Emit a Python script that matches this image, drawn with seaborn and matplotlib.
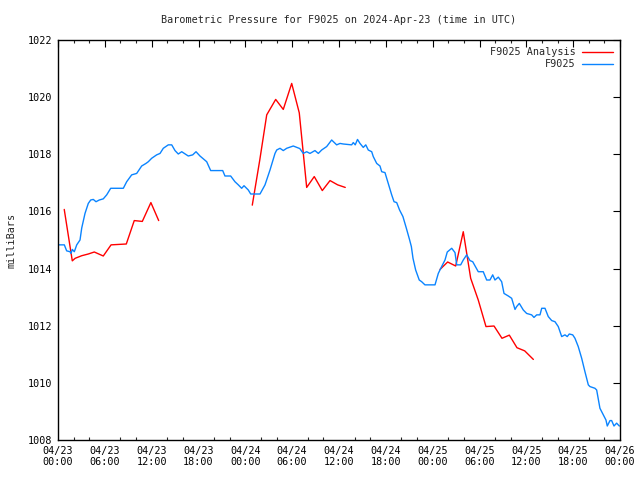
import matplotlib
matplotlib.use("Agg")
import matplotlib.pyplot as plt
import seaborn as sns
import pandas as pd
import numpy as np
from matplotlib.ticker import MultipleLocator

# ---- data (hours since 2024-04-23 00:00 UTC, pressure in mb) ----
station_hours = [0.04, 0.81, 1.11, 1.54, 1.67, 1.83, 2.09, 2.40, 2.82, 3.04, 3.46, 3.88, 4.19, 4.52,
                 4.87, 5.29, 5.80, 6.24, 6.75, 8.37, 8.80, 9.44, 10.08, 10.72, 11.27, 11.57, 12.00,
                 12.64, 13.07, 13.49, 14.13, 14.57, 14.99, 15.41, 15.85, 16.69, 17.26, 17.68, 18.19,
                 19.05, 19.56, 21.10, 21.39, 22.12, 22.67, 23.10, 23.53, 23.83, 24.38, 24.69, 25.88,
                 26.52, 27.16, 27.80, 28.02, 28.44, 28.86, 29.30, 30.14, 30.98, 31.42, 31.86, 32.28,
                 32.92, 33.35, 33.78, 34.42, 35.06, 35.70, 36.13, 36.55, 37.62, 37.83, 38.08, 38.37,
                 38.69, 39.11, 39.43, 39.75, 40.19, 40.39, 40.83, 41.25, 41.47, 41.89, 42.11, 42.44,
                 42.75, 43.05, 43.39, 43.76, 44.19, 44.63, 45.05, 45.27, 45.48, 45.82, 46.28, 46.59,
                 47.01, 48.30, 48.72, 49.15, 49.58, 49.87, 50.44, 50.86, 51.08, 51.59, 51.92, 52.36,
                 52.78, 53.13, 53.84, 54.48, 54.92, 55.34, 55.69, 55.98, 56.41, 56.84, 57.14, 57.69,
                 58.12, 58.55, 58.76, 59.10, 59.61, 60.04, 60.68, 60.98, 61.33, 61.75, 61.97, 62.39,
                 62.81, 63.25, 63.67, 64.09, 64.53, 64.95, 65.24, 65.50, 65.94, 66.23, 66.65, 67.09,
                 67.51, 67.94, 68.15, 68.79, 69.01, 69.43, 69.86, 70.20, 70.37, 70.72, 70.93, 71.23,
                 71.57, 71.91]
station_mb = [1014.83, 1014.83, 1014.62, 1014.59, 1014.53, 1014.67, 1014.59, 1014.83, 1015.00, 1015.42,
              1015.93, 1016.28, 1016.40, 1016.42, 1016.34, 1016.40, 1016.44, 1016.58, 1016.81, 1016.81,
              1017.04, 1017.28, 1017.33, 1017.59, 1017.68, 1017.74, 1017.86, 1017.98, 1018.03, 1018.21,
              1018.33, 1018.33, 1018.13, 1018.01, 1018.09, 1017.94, 1017.98, 1018.09, 1017.94, 1017.74,
              1017.43, 1017.43, 1017.24, 1017.24, 1017.04, 1016.93, 1016.81, 1016.90, 1016.75, 1016.61,
              1016.61, 1016.93, 1017.45, 1018.03, 1018.15, 1018.21, 1018.13, 1018.21, 1018.29, 1018.20,
              1018.03, 1018.09, 1018.03, 1018.13, 1018.03, 1018.15, 1018.27, 1018.50, 1018.33, 1018.38,
              1018.36, 1018.33, 1018.41, 1018.33, 1018.52, 1018.38, 1018.24, 1018.33, 1018.15, 1018.09,
              1017.92, 1017.68, 1017.59, 1017.39, 1017.36, 1017.16, 1016.87, 1016.58, 1016.34, 1016.31,
              1016.05, 1015.82, 1015.41, 1015.00, 1014.77, 1014.36, 1013.95, 1013.60, 1013.54, 1013.43,
              1013.43, 1013.83, 1014.07, 1014.30, 1014.58, 1014.71, 1014.56, 1014.13, 1014.13, 1014.30,
              1014.48, 1014.28, 1014.24, 1013.89, 1013.89, 1013.60, 1013.60, 1013.78, 1013.60, 1013.70,
              1013.54, 1013.13, 1013.04, 1012.96, 1012.57, 1012.67, 1012.78, 1012.55, 1012.43, 1012.38,
              1012.29, 1012.38, 1012.38, 1012.61, 1012.61, 1012.32, 1012.18, 1012.14, 1011.97, 1011.62,
              1011.68, 1011.62, 1011.71, 1011.68, 1011.56, 1011.27, 1010.86, 1010.39, 1009.93, 1009.87,
              1009.81, 1009.75, 1009.11, 1008.88, 1008.70, 1008.49, 1008.68, 1008.68, 1008.49, 1008.59,
              1008.49]

analysis_hours = [0.80, 1.83, 2.20, 3.04, 3.88, 4.65, 5.80, 6.80, 8.75, 9.77, 10.80, 11.90, 12.90,
                  24.89, 25.85, 26.74, 27.89, 28.86, 29.94, 30.91, 31.86, 32.83, 33.86, 34.85, 35.83, 36.80,
                  48.94, 49.92, 50.95, 51.92, 52.87, 53.84, 54.83, 55.86, 56.88, 57.82, 58.80, 59.79, 60.90]
analysis_mb = [1016.07, 1014.27, 1014.36, 1014.45, 1014.51, 1014.58, 1014.44, 1014.83, 1014.86, 1015.68,
               1015.65, 1016.31, 1015.68,
               1016.22, 1017.80, 1019.38, 1019.92, 1019.57, 1020.48, 1019.45, 1016.84, 1017.22, 1016.73,
               1017.08, 1016.93, 1016.84,
               1013.97, 1014.23, 1014.09, 1015.29, 1013.66, 1012.90, 1011.97, 1011.99, 1011.56, 1011.67,
               1011.23, 1011.12, 1010.82]
analysis_segment = [0] * 13 + [1] * 13 + [2] * 13

x_tick_labels = ["04/23\n00:00", "04/23\n06:00", "04/23\n12:00", "04/23\n18:00",
                 "04/24\n00:00", "04/24\n06:00", "04/24\n12:00", "04/24\n18:00",
                 "04/25\n00:00", "04/25\n06:00", "04/25\n12:00", "04/25\n18:00",
                 "04/26\n00:00"]
y_ticks = [1008, 1010, 1012, 1014, 1016, 1018, 1020, 1022]

title = "Barometric Pressure for F9025 on 2024-Apr-23 (time in UTC)"
series_names = ["F9025 Analysis", "F9025"]
series_colors = ["#ff0000", "#0a84ff"]

# ---- plot ----
sns.set_style("white")
plt.rcParams["font.family"] = ["DejaVu Sans Mono", "DejaVu Sans"]

station = pd.DataFrame({"hours": station_hours, "mb": station_mb})
analysis = pd.DataFrame({"hours": analysis_hours, "mb": analysis_mb, "seg": analysis_segment})

fig = plt.figure(figsize=(6.4, 4.8), dpi=100)
ax = fig.add_axes([58 / 640, 40 / 480, 562 / 640, 400 / 480])

sns.lineplot(data=analysis, x="hours", y="mb", units="seg", estimator=None,
             color=series_colors[0], linewidth=1.0, ax=ax, sort=False, legend=False)
sns.lineplot(data=station, x="hours", y="mb", estimator=None,
             color=series_colors[1], linewidth=1.0, ax=ax, sort=False, legend=False)

ax.set_xlim(0, 72)
ax.set_ylim(1008, 1022)
ax.set_xticks(np.arange(0, 73, 6))
ax.set_xticklabels(x_tick_labels)
ax.xaxis.set_minor_locator(MultipleLocator(2))
ax.set_yticks(y_ticks)
ax.set_yticklabels([str(v) for v in y_ticks])

ax.tick_params(axis="both", which="major", direction="in", length=5, width=0.8,
               top=True, right=True, labelsize=7.3, colors="black", pad=4)
ax.tick_params(axis="x", which="minor", direction="in", length=2.5, width=0.8,
               top=True, bottom=True)
for s in ax.spines.values():
    s.set_visible(True)
    s.set_color("black")
    s.set_linewidth(1.0)

ax.set_xlabel("")
ax.set_ylabel("milliBars", fontsize=7.3, labelpad=8)
ax.set_title(title, fontsize=7.3, pad=12)

handles = [plt.Line2D([], [], color=c, linewidth=1.0) for c in series_colors]
ax.legend(handles, series_names, loc="upper right", frameon=False, markerfirst=False,
          fontsize=7.3, handlelength=3.0, handletextpad=0.7, borderaxespad=0.3,
          labelspacing=0.2)

fig.savefig("out.png", dpi=100)
